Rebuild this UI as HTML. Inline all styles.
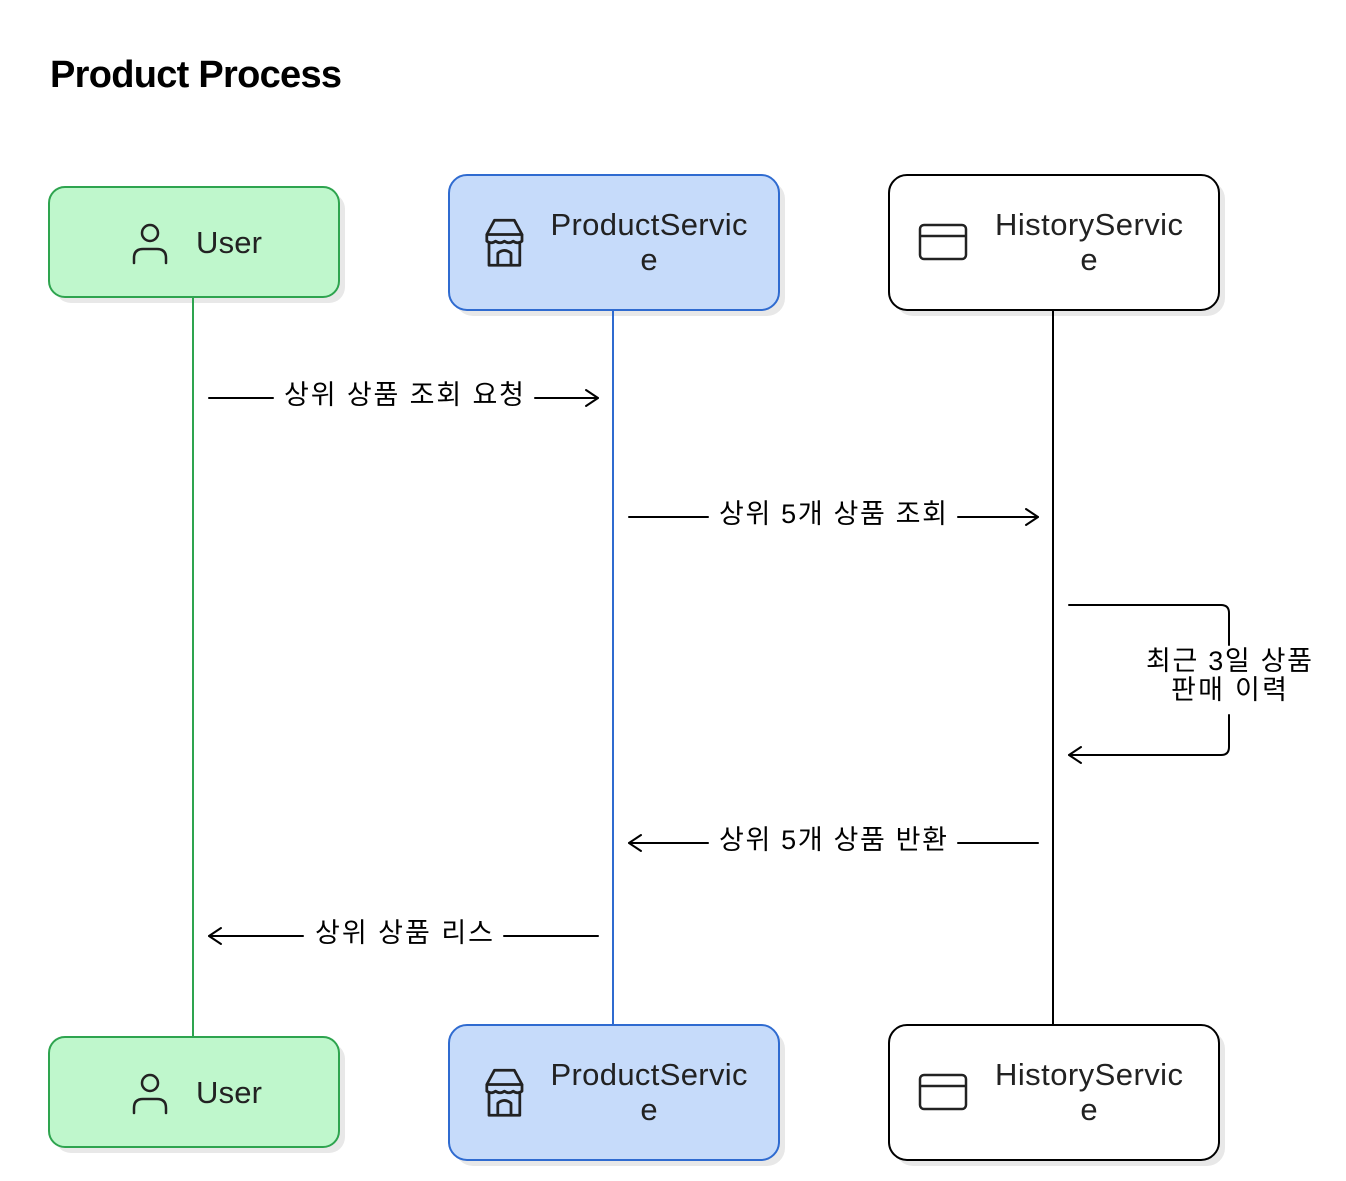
<!DOCTYPE html>
<html><head><meta charset="utf-8"><style>
html,body{margin:0;padding:0;background:#fff;}
svg{display:block;font-family:"Liberation Sans","Noto Sans CJK KR",sans-serif;}
</style></head><body>
<svg width="1346" height="1181" viewBox="0 0 1346 1181" xmlns="http://www.w3.org/2000/svg">
<defs>
<g id="user"><circle cx="0" cy="-10" r="8" fill="none" stroke="#222" stroke-width="2.5"/><path d="M-16 20 V15 Q-16 6 -7 6 H7 Q16 6 16 15 V20" fill="none" stroke="#222" stroke-width="2.5" stroke-linecap="round"/></g>
<g id="shop" fill="none" stroke="#222" stroke-width="2.5" stroke-linejoin="round"><path d="M-16 -8 L-9 -21 H9 L16 -8 Z"/><path d="M-16 -8 V-2 Q-12 1 -8 -2 Q-4 1 0 -2 Q4 1 8 -2 Q12 1 16 -2 V-8"/><path d="M-14 0 V20 H14 V0"/><path d="M-6 20 V9 Q0 4 6 9 V20"/></g>
<g id="card" fill="none" stroke="#222" stroke-width="2.5"><rect x="-23" y="-17" width="46" height="34" rx="4"/><line x1="-23" y1="-6" x2="23" y2="-6"/></g>
</defs>
<text x="50" y="87" font-size="38" font-weight="bold" fill="#000" textLength="292">Product Process</text>

<!-- shadows -->
<g fill="#e8e8e8">
<rect x="55" y="193" width="290" height="110" rx="16"/>
<rect x="455" y="181" width="330" height="135" rx="18"/>
<rect x="895" y="181" width="330" height="135" rx="18"/>
<rect x="55" y="1043" width="290" height="110" rx="16"/>
<rect x="455" y="1031" width="330" height="135" rx="18"/>
<rect x="895" y="1031" width="330" height="135" rx="18"/>
</g>

<!-- lifelines -->
<line x1="193" y1="297" x2="193" y2="1037" stroke="#2ea44f" stroke-width="2"/>
<line x1="613" y1="310" x2="613" y2="1025" stroke="#2f6bd0" stroke-width="2"/>
<line x1="1053" y1="310" x2="1053" y2="1025" stroke="#000" stroke-width="2"/>

<!-- boxes top -->
<g>
<rect x="49" y="187" width="290" height="110" rx="16" fill="#bff7cc" stroke="#2ea44f" stroke-width="2"/>
<use href="#user" x="150" y="243"/>
<text x="229" y="253" font-size="31" text-anchor="middle" fill="#222" textLength="66">User</text>
<rect x="449" y="175" width="330" height="135" rx="18" fill="#c6dbfa" stroke="#2f6bd0" stroke-width="2"/>
<use href="#shop" x="504" y="243" transform="translate(-50 -24) scale(1.1)" />
<text x="649" y="235" font-size="31" text-anchor="middle" fill="#222" textLength="197">ProductServic</text>
<text x="649" y="270" font-size="31" text-anchor="middle" fill="#222">e</text>
<rect x="889" y="175" width="330" height="135" rx="18" fill="#fff" stroke="#000" stroke-width="2"/>
<use href="#card" x="943" y="242"/>
<text x="1089" y="235" font-size="31" text-anchor="middle" fill="#222" textLength="188">HistoryServic</text>
<text x="1089" y="270" font-size="31" text-anchor="middle" fill="#222">e</text>
</g>
<!-- boxes bottom -->
<g>
<rect x="49" y="1037" width="290" height="110" rx="16" fill="#bff7cc" stroke="#2ea44f" stroke-width="2"/>
<use href="#user" x="150" y="1093"/>
<text x="229" y="1103" font-size="31" text-anchor="middle" fill="#222" textLength="66">User</text>
<rect x="449" y="1025" width="330" height="135" rx="18" fill="#c6dbfa" stroke="#2f6bd0" stroke-width="2"/>
<use href="#shop" x="504" y="1093" transform="translate(-50 -109) scale(1.1)"/>
<text x="649" y="1085" font-size="31" text-anchor="middle" fill="#222" textLength="197">ProductServic</text>
<text x="649" y="1120" font-size="31" text-anchor="middle" fill="#222">e</text>
<rect x="889" y="1025" width="330" height="135" rx="18" fill="#fff" stroke="#000" stroke-width="2"/>
<use href="#card" x="943" y="1092"/>
<text x="1089" y="1085" font-size="31" text-anchor="middle" fill="#222" textLength="188">HistoryServic</text>
<text x="1089" y="1120" font-size="31" text-anchor="middle" fill="#222">e</text>
</g>

<g stroke="#000" stroke-width="2" fill="none" stroke-linecap="round" stroke-linejoin="round">
<line x1="209" y1="398" x2="273" y2="398"/><line x1="535" y1="398" x2="598" y2="398"/>
<path d="M586 390 L598 398 L586 406"/>
<line x1="629" y1="517" x2="708" y2="517"/><line x1="958" y1="517" x2="1038" y2="517"/>
<path d="M1026 509 L1038 517 L1026 525"/>
<path d="M1069 605 H1221 Q1229 605 1229 613 V645"/>
<path d="M1229 715 V747 Q1229 755 1221 755 H1069"/>
<path d="M1081 747 L1069 755 L1081 763"/>
<line x1="629" y1="843" x2="708" y2="843"/><line x1="958" y1="843" x2="1038" y2="843"/>
<path d="M641 835 L629 843 L641 851"/>
<line x1="209" y1="936" x2="303" y2="936"/><line x1="504" y1="936" x2="598" y2="936"/>
<path d="M221 928 L209 936 L221 944"/>
</g>
<g font-size="27" fill="#000" text-anchor="middle">
<text x="404" y="404" textLength="240">상위 상품 조회 요청</text>
<text x="833" y="523" textLength="228">상위 5개 상품 조회</text>
<text x="1229" y="670" textLength="166">최근 3일 상품</text>
<text x="1229" y="699" textLength="116">판매 이력</text>
<text x="833" y="849" textLength="228">상위 5개 상품 반환</text>
<text x="404" y="942" textLength="178">상위 상품 리스</text>
</g>
</svg>
</body></html>
